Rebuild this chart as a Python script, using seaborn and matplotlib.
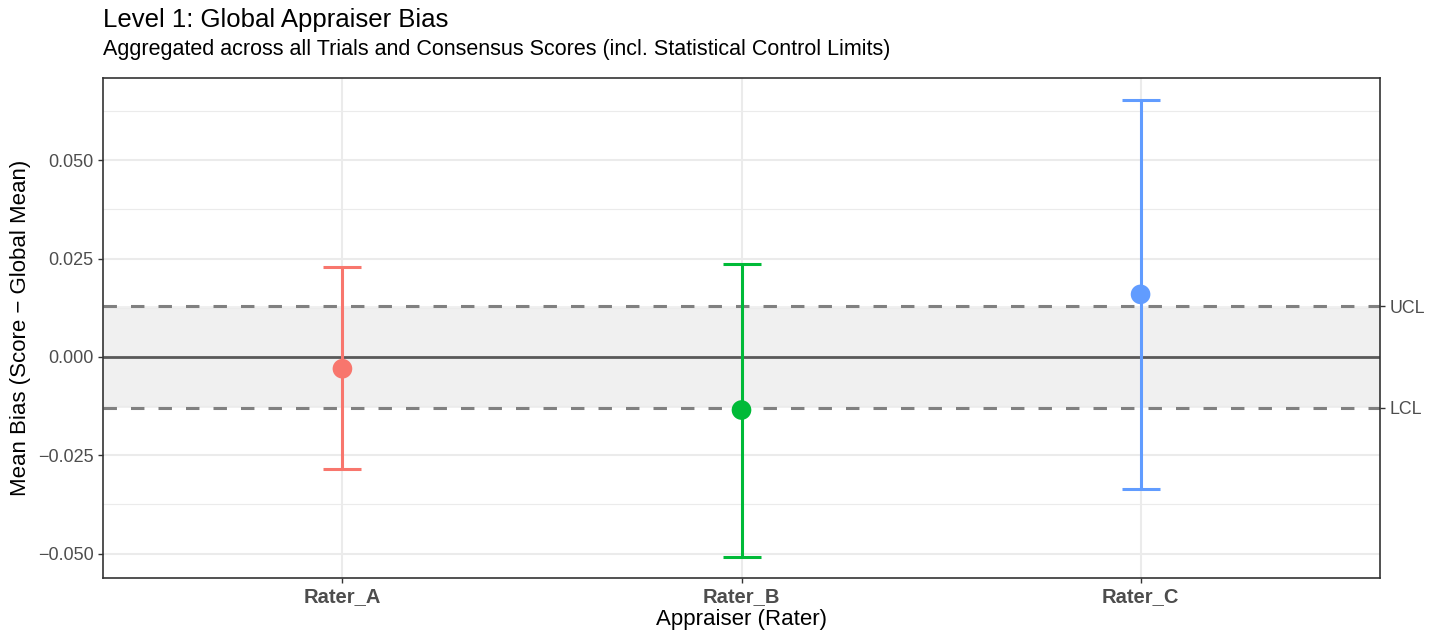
import numpy as np
import pandas as pd
import matplotlib
matplotlib.use("Agg")
import matplotlib.pyplot as plt
import seaborn as sns

# Per-rater mean bias with lower/upper interval bounds
raters = ["Rater_A", "Rater_B", "Rater_C"]
mean_bias = [-0.0030, -0.0135, 0.0159]
ci_low = [-0.0285, -0.0508, -0.0335]
ci_high = [0.0229, 0.0237, 0.0653]

# Statistical control limits around zero
ucl = 0.0129
lcl = -0.0129

palette = ["#F8766D", "#00BA38", "#619CFF"]

df = pd.DataFrame({"rater": raters, "bias": mean_bias, "lo": ci_low, "hi": ci_high})

sns.set_theme(style="white")
plt.rcParams["font.family"] = ["Liberation Sans", "DejaVu Sans"]
plt.rcParams["text.color"] = "black"

W, H = 1439, 633
fig = plt.figure(figsize=(W / 100, H / 100), dpi=100)
ax = fig.add_axes([103 / W, 1 - 578 / H, (1380 - 103) / W, (578 - 78) / H])

# Grid (theme_bw style)
ax.set_axisbelow(True)
ax.set_yticks([-0.05, -0.025, 0.0, 0.025, 0.05])
ax.set_yticks([-0.0375, -0.0125, 0.0125, 0.0375, 0.0625], minor=True)
ax.grid(True, which="major", color="#EBEBEB", linewidth=1.5)
ax.grid(True, which="minor", axis="y", color="#EBEBEB", linewidth=0.8)

# Control band and limit lines
dash = (0, (4.4, 4.6))
ax.axhspan(lcl, ucl, color="#F0F0F0", zorder=0.5, lw=0)
ax.axhline(ucl, color="#808080", lw=2.2, ls=dash, zorder=1)
ax.axhline(lcl, color="#808080", lw=2.2, ls=dash, zorder=1)
ax.axhline(0, color="#595959", lw=2.0, zorder=1)

# Error bars
xpos = np.arange(len(raters))
for i, row in df.iterrows():
    ax.errorbar(xpos[i], row["bias"],
                yerr=[[row["bias"] - row["lo"]], [row["hi"] - row["bias"]]],
                fmt="none", ecolor=palette[i], elinewidth=2.2, capsize=14, capthick=2.2, zorder=2)

sns.scatterplot(data=df, x="rater", y="bias", hue="rater", palette=palette,
                s=200, edgecolor="none", legend=False, ax=ax, zorder=3)

ax.set_xlim(-0.6, 2.6)
ax.set_ylim(-0.0562, 0.0709)
ax.set_xticks(xpos)
ax.set_xticklabels(raters, fontweight="bold", fontsize=14.5, color="#4D4D4D")
ax.set_yticklabels(["\u22120.050", "\u22120.025", "0.000", "0.025", "0.050"], fontsize=13, color="#4D4D4D")
ax.tick_params(axis="both", which="major", length=3.8, width=1, color="#333333", pad=3, left=True, bottom=True)
ax.tick_params(axis="y", which="minor", length=0)
for s in ax.spines.values():
    s.set_color("#333333")
    s.set_linewidth(1.2)

ax.set_xlabel("Appraiser (Rater)", fontsize=16, color="black", labelpad=2)
ax.set_ylabel("Mean Bias (Score \u2212 Global Mean)", fontsize=16, color="black", labelpad=5)

# Right-side control limit labels
ax2 = ax.twinx()
ax2.set_ylim(ax.get_ylim())
ax2.set_yticks([lcl, ucl])
ax2.set_yticklabels(["LCL", "UCL"], fontsize=12.8, color="#4D4D4D")
ax2.tick_params(axis="y", length=3.8, width=1, color="#333333", pad=3)
for s in ax2.spines.values():
    s.set_visible(False)

fig.text(103 / W, 1 - 27 / H, "Level 1: Global Appraiser Bias", fontsize=18.5,
         va="baseline", ha="left", color="black")
fig.text(103 / W, 1 - 55 / H,
         "Aggregated across all Trials and Consensus Scores (incl. Statistical Control Limits)",
         fontsize=15.5, va="baseline", ha="left", color="black")

fig.savefig("out.png", dpi=100)
